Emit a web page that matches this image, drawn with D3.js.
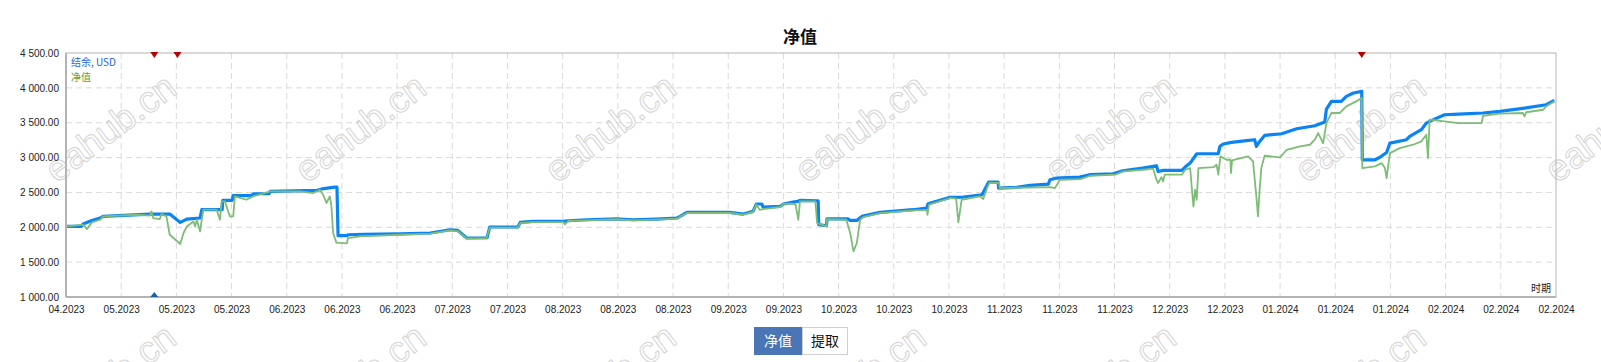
<!DOCTYPE html>
<html>
<head>
<meta charset="utf-8">
<script src="https://cdn.jsdelivr.net/npm/d3@7"></script>
<style>
  html, body { margin: 0; padding: 0; background: #fff; }
  svg text { font-family: "Liberation Sans", Arial, sans-serif; }
</style>
</head>
<body>
<svg id="chart" width="1601" height="362"></svg>
<script>
// x positions are in tick units (0 = first label, 27 = last label)
const xLabels = ["04.2023","05.2023","05.2023","05.2023","06.2023","06.2023","06.2023",
  "07.2023","07.2023","08.2023","08.2023","08.2023","09.2023","09.2023",
  "10.2023","10.2023","10.2023","11.2023","11.2023","11.2023","12.2023","12.2023",
  "01.2024","01.2024","01.2024","02.2024","02.2024","02.2024"];
const yTicks = [1000, 1500, 2000, 2500, 3000, 3500, 4000, 4500];

// 结余 (balance)
const balance = [
  [0.01,2012],[0.28,2012],[0.31,2047],[0.47,2098],[0.62,2133],[0.67,2156],[1.52,2190],
  [1.88,2190],[2.07,2070],[2.19,2118],[2.43,2133],[2.46,2252],[2.83,2252],[2.84,2385],
  [3.01,2385],[3.03,2453],[3.37,2453],[3.39,2481],[3.68,2481],[3.70,2515],[4.55,2530],
  [4.64,2550],[4.87,2577],[4.91,2577],[4.93,1880],[5.09,1880],[5.11,1893],[5.38,1900],
  [6.05,1905],[6.60,1918],[6.96,1965],[7.10,1955],[7.26,1846],[7.63,1850],[7.68,2004],
  [8.19,2004],[8.23,2070],[8.46,2084],[9.01,2084],[9.10,2094],[9.43,2108],[9.98,2122],
  [10.27,2108],[10.70,2118],[11.07,2133],[11.13,2156],[11.25,2213],[12.03,2213],[12.27,2190],
  [12.45,2228],[12.51,2334],[12.61,2334],[12.63,2290],[12.94,2300],[13.00,2334],[13.15,2357],
  [13.26,2371],[13.30,2385],[13.63,2381],[13.64,2037],[13.78,2022],[13.79,2122],[14.17,2122],
  [14.21,2098],[14.33,2098],[14.42,2156],[14.75,2213],[15.35,2252],[15.60,2276],[15.62,2338],
  [16.02,2429],[16.26,2434],[16.60,2467],[16.72,2648],[16.89,2648],[16.90,2562],[17.23,2572],
  [17.47,2600],[17.80,2620],[17.83,2682],[17.95,2706],[18.37,2720],[18.55,2754],[18.97,2768],
  [19.15,2811],[19.51,2849],[19.76,2883],[19.79,2801],[19.88,2816],[20.22,2816],[20.28,2864],
  [20.37,2921],[20.49,3055],[20.88,3055],[20.91,3160],[20.97,3194],[21.12,3217],[21.39,3242],
  [21.54,3256],[21.57,3160],[21.63,3232],[21.72,3318],[22.03,3342],[22.30,3414],[22.63,3457],
  [22.81,3510],[22.84,3696],[22.93,3806],[23.11,3806],[23.20,3878],[23.33,3926],[23.48,3949],
  [23.49,2968],[23.72,2968],[23.81,3004],[23.93,3072],[23.99,3208],[24.29,3256],[24.35,3304],
  [24.56,3400],[24.65,3495],[24.71,3519],[24.98,3614],[25.23,3624],[25.68,3639],[25.98,3662],
  [26.43,3710],[26.82,3758],[26.97,3820]
];

// 净值 (equity)
const equity = [
  [0.01,2012],[0.31,2037],[0.38,1975],[0.47,2070],[0.62,2108],[0.67,2156],[1.28,2180],
  [1.52,2166],[1.55,2228],[1.58,2133],[1.70,2118],[1.73,2190],[1.82,2156],[1.88,1893],
  [2.07,1760],[2.13,1918],[2.19,2012],[2.31,2084],[2.34,2012],[2.37,2108],[2.43,1941],
  [2.46,2108],[2.49,2252],[2.73,2252],[2.79,2108],[2.82,2371],[2.88,2371],[2.97,2156],
  [3.03,2156],[3.06,2443],[3.27,2395],[3.39,2443],[3.70,2515],[4.24,2515],[4.48,2491],
  [4.60,2539],[4.66,2467],[4.72,2348],[4.78,2443],[4.81,2300],[4.84,1918],[4.90,1780],
  [5.09,1770],[5.11,1846],[5.33,1870],[6.05,1893],[6.60,1910],[6.96,1955],[7.10,1945],
  [7.26,1840],[7.62,1840],[7.68,1995],[8.19,1995],[8.23,2060],[8.46,2075],[9.01,2075],
  [9.04,2040],[9.10,2090],[9.43,2100],[9.98,2115],[10.27,2100],[10.70,2110],[11.07,2125],
  [11.13,2150],[11.25,2205],[12.03,2205],[12.27,2180],[12.45,2220],[12.51,2330],[12.57,2250],
  [12.63,2262],[12.94,2291],[13.00,2334],[13.15,2340],[13.22,2324],[13.27,2108],[13.30,2371],
  [13.58,2371],[13.61,2061],[13.78,2012],[13.79,2118],[14.14,2108],[14.21,1918],[14.27,1654],
  [14.33,1774],[14.39,2108],[14.45,2147],[14.75,2204],[15.35,2242],[15.60,2250],[15.61,2180],
  [15.64,2324],[16.02,2420],[16.13,2410],[16.17,2070],[16.23,2395],[16.56,2443],[16.62,2405],
  [16.68,2539],[16.73,2635],[16.91,2635],[16.92,2562],[17.83,2577],[17.92,2562],[18.01,2682],
  [18.38,2692],[18.56,2739],[19.01,2754],[19.16,2801],[19.52,2825],[19.70,2840],[19.76,2682],
  [19.79,2635],[19.85,2720],[19.88,2658],[19.91,2754],[20.22,2754],[20.28,2825],[20.37,2849],
  [20.43,2296],[20.46,2539],[20.49,2395],[20.52,2849],[20.80,2864],[20.85,2897],[20.88,2754],
  [20.92,3017],[21.03,2969],[21.10,2969],[21.11,2778],[21.13,2960],[21.42,3017],[21.51,2945],
  [21.57,2443],[21.60,2156],[21.63,2539],[21.66,2849],[21.72,3026],[22.00,3004],[22.12,3112],
  [22.36,3160],[22.54,3184],[22.63,3256],[22.69,3352],[22.78,3208],[22.84,3495],[22.93,3639],
  [23.08,3639],[23.20,3734],[23.38,3806],[23.48,3854],[23.49,2849],[23.72,2873],[23.84,2921],
  [23.90,2850],[23.93,2706],[23.99,3064],[24.17,3136],[24.41,3184],[24.56,3232],[24.65,3328],
  [24.68,2993],[24.71,3543],[24.98,3519],[25.23,3495],[25.65,3495],[25.68,3600],[25.98,3629],
  [26.40,3639],[26.43,3590],[26.46,3650],[26.77,3686],[26.82,3734],[26.97,3806]
];

// deposit / withdrawal markers
const depositsT = [1.6];
const withdrawalsT = [1.6, 2.02, 23.48];

const svg = d3.select("#chart");
const margin = { left: 66, right: 45, top: 53, bottom: 65 };
const W = 1601, H = 362;

const x = d3.scaleLinear().domain([0, xLabels.length - 1]).range([margin.left, W - margin.right]);
const y = d3.scaleLinear().domain([1000, 4500]).range([H - margin.bottom, margin.top]);

// watermark
const wm = svg.append("g").attr("class", "watermark");
for (let row = 0; row < 2; row++) {
  for (let col = 0; col < 7; col++) {
    wm.append("text")
      .attr("transform", `translate(${57 + col * 250},${184 + row * 250}) rotate(-37)`)
      .style("font-size", "37px")
      .style("fill", "none")
      .style("stroke", "#d4d4d4")
      .style("stroke-width", 1)
      .text("eahub.cn");
  }
}

svg.append("text")
  .attr("x", 800).attr("y", 43)
  .attr("text-anchor", "middle")
  .style("font-family", "'Noto Sans CJK SC', sans-serif")
  .style("font-size", "17px").style("font-weight", "bold").style("fill", "#111")
  .text("净值");

// grid
const grid = svg.append("g").attr("class", "grid")
  .style("stroke", "#dadada").style("stroke-dasharray", "6,4");
grid.selectAll(".gx").data(d3.range(1, xLabels.length - 1)).join("line")
  .attr("x1", d => x(d)).attr("x2", d => x(d))
  .attr("y1", y(4500)).attr("y2", y(1000));
grid.selectAll(".gy").data(yTicks.slice(1, -1)).join("line")
  .attr("x1", x(0)).attr("x2", x(xLabels.length - 1))
  .attr("y1", d => y(d)).attr("y2", d => y(d));

// axes
const fmt = v => d3.format(",.2f")(v).replace(/,/g, " ");
const yAxis = svg.append("g")
  .attr("transform", `translate(${margin.left - 4},0)`)
  .call(d3.axisLeft(y).tickValues(yTicks).tickFormat(fmt).tickSize(0));
yAxis.select(".domain").remove();
yAxis.selectAll("text").style("font-size", "10px").style("fill", "#222")
  .style("font-family", "'Liberation Sans', Arial, sans-serif");

const xAxis = svg.append("g")
  .attr("transform", `translate(0,${H - margin.bottom + 6})`)
  .call(d3.axisBottom(x).tickValues(d3.range(xLabels.length)).tickFormat(i => xLabels[i]).tickSize(0));
xAxis.select(".domain").remove();
xAxis.selectAll("text").style("font-size", "10px").style("fill", "#222")
  .style("font-family", "'Liberation Sans', Arial, sans-serif");

// lines
const line = d3.line().x(d => x(d[0])).y(d => y(d[1]));
svg.append("path").datum(balance)
  .attr("d", line).attr("fill", "none")
  .attr("stroke", "#0a84f5").attr("stroke-width", 3.2).attr("stroke-linejoin", "round");
svg.append("path").datum(equity)
  .attr("d", line).attr("fill", "none")
  .attr("stroke", "#7dbd78").attr("stroke-width", 1.8).attr("stroke-linejoin", "round");

// frame
svg.append("rect")
  .attr("x", x(0)).attr("y", y(4500))
  .attr("width", x(xLabels.length - 1) - x(0)).attr("height", y(1000) - y(4500))
  .attr("fill", "none").attr("stroke", "#b4b4b4").attr("stroke-width", 1);
svg.append("line").attr("x1", x(0)).attr("x2", x(0)).attr("y1", y(4500)).attr("y2", y(1000))
  .attr("stroke", "#b4b4b4").attr("stroke-width", 2);
svg.append("line").attr("x1", x(0)).attr("x2", x(xLabels.length - 1)).attr("y1", y(1000)).attr("y2", y(1000))
  .attr("stroke", "#b4b4b4").attr("stroke-width", 2);

// markers
svg.selectAll(".wd").data(withdrawalsT).join("path")
  .attr("transform", d => `translate(${x(d)},${y(4500)})`)
  .attr("d", "M-4,-1L4,-1L0,5Z").attr("fill", "#b80000");
svg.selectAll(".dp").data(depositsT).join("path")
  .attr("transform", d => `translate(${x(d)},${y(1000)})`)
  .attr("d", "M-4,0L4,0L0,-5Z").attr("fill", "#1d5fa3");

// legend
svg.append("text").attr("x", 71).attr("y", 66)
  .style("font-family", "'Noto Sans CJK SC', sans-serif").style("font-size", "10px")
  .style("fill", "#2466d8").text("结余, USD");
svg.append("text").attr("x", 71).attr("y", 81)
  .style("font-family", "'Noto Sans CJK SC', sans-serif").style("font-size", "10px")
  .style("fill", "#5f9e3c").text("净值");

svg.append("text").attr("x", 1551).attr("y", 292).attr("text-anchor", "end")
  .style("font-family", "'Noto Sans CJK SC', sans-serif").style("font-size", "10px")
  .style("fill", "#222").text("时期");

// tabs
const tabs = svg.append("g");
tabs.append("rect").attr("x", 754).attr("y", 327).attr("width", 48).attr("height", 28)
  .attr("fill", "#4a76b6");
tabs.append("rect").attr("x", 802.5).attr("y", 327.5).attr("width", 45).attr("height", 27)
  .attr("fill", "#fff").attr("stroke", "#cfcfcf");
tabs.append("text").attr("x", 778).attr("y", 346).attr("text-anchor", "middle")
  .style("font-family", "'Noto Sans CJK SC', sans-serif").style("font-size", "14px")
  .style("fill", "#fff").text("净值");
tabs.append("text").attr("x", 825).attr("y", 346).attr("text-anchor", "middle")
  .style("font-family", "'Noto Sans CJK SC', sans-serif").style("font-size", "14px")
  .style("fill", "#111").text("提取");
</script>
</body>
</html>
